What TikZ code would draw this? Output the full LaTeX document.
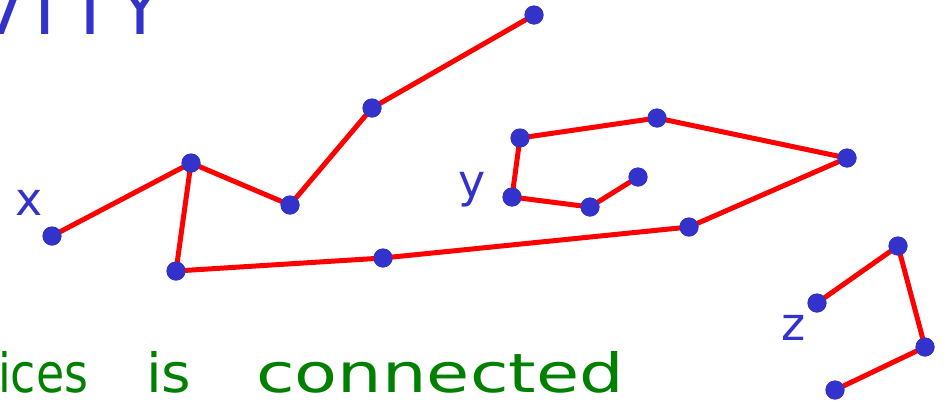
\documentclass[tikz,border=0pt]{standalone}
\usepackage{fontspec}
\setmainfont{DejaVu Sans}
\definecolor{inkblue}{RGB}{51,51,204}
\definecolor{inkred}{RGB}{255,0,0}
\definecolor{inkgreen}{RGB}{0,128,0}
\tikzset{
  vtx/.style={circle,fill=inkblue,inner sep=0pt,minimum size=19pt},
  edge/.style={draw=inkred,line width=5pt,line cap=round},
  lbl/.style={text=inkblue,font=\fontsize{46}{50}\selectfont,inner sep=0pt},
  title/.style={text=inkblue,font=\fontsize{72}{76}\selectfont,inner sep=0pt,anchor=base},
  sentence/.style={text=inkgreen,font=\fontsize{54}{58}\selectfont,inner sep=0pt,anchor=base west}
}
\begin{document}
\begin{tikzpicture}[x=1pt,y=-1pt]
\useasboundingbox (0,0) rectangle (945,408);
\clip (0,0) rectangle (945,408);
% partial title
\node[title] (t1) at (0,34) {V};
\node[title] (t2) at (45,34) {I};
\node[title] (t3) at (90,34) {T};
\node[title] (t4) at (140,34) {Y};
% sentence
\node[sentence,xscale=0.85] (s1) at (-2,392) {ices};
\node[sentence,xscale=1.05] (s2) at (146,392) {is};
\node[sentence,xscale=1.3] (s3) at (256,392) {connected};
% labels
\node[lbl] (lx) at (29,203) {x};
\node[lbl] (ly) at (472,190) {y};
\node[lbl] (lz) at (794,328) {z};
% vertices
\node[vtx] (A) at (52,236) {};
\node[vtx] (B) at (191,163) {};
\node[vtx] (C) at (290,205) {};
\node[vtx] (D) at (372,108) {};
\node[vtx] (E) at (534,15) {};
\node[vtx] (F) at (176,271) {};
\node[vtx] (G) at (383,258) {};
\node[vtx] (H) at (689,227) {};
\node[vtx] (I) at (847,158) {};
\node[vtx] (J) at (657,118) {};
\node[vtx] (K) at (520,138) {};
\node[vtx] (L) at (512,197) {};
\node[vtx] (M) at (590,207) {};
\node[vtx] (N) at (638,177) {};
\node[vtx] (P) at (817,303) {};
\node[vtx] (Q) at (898,246) {};
\node[vtx] (R) at (925,347) {};
\node[vtx] (S) at (835,390) {};
% edges
\draw[edge] (A.center) -- (B.center) -- (C.center) -- (D.center) -- (E.center);
\draw[edge] (B.center) -- (F.center) -- (G.center) -- (H.center) -- (I.center) -- (J.center) -- (K.center) -- (L.center) -- (M.center) -- (N.center);
\draw[edge] (P.center) -- (Q.center) -- (R.center) -- (S.center);
% redraw dots on top of the edges
\foreach \v in {A,B,C,D,E,F,G,H,I,J,K,L,M,N,P,Q,R,S}
  \fill[inkblue] (\v) circle (9.5pt);
\end{tikzpicture}
\end{document}
